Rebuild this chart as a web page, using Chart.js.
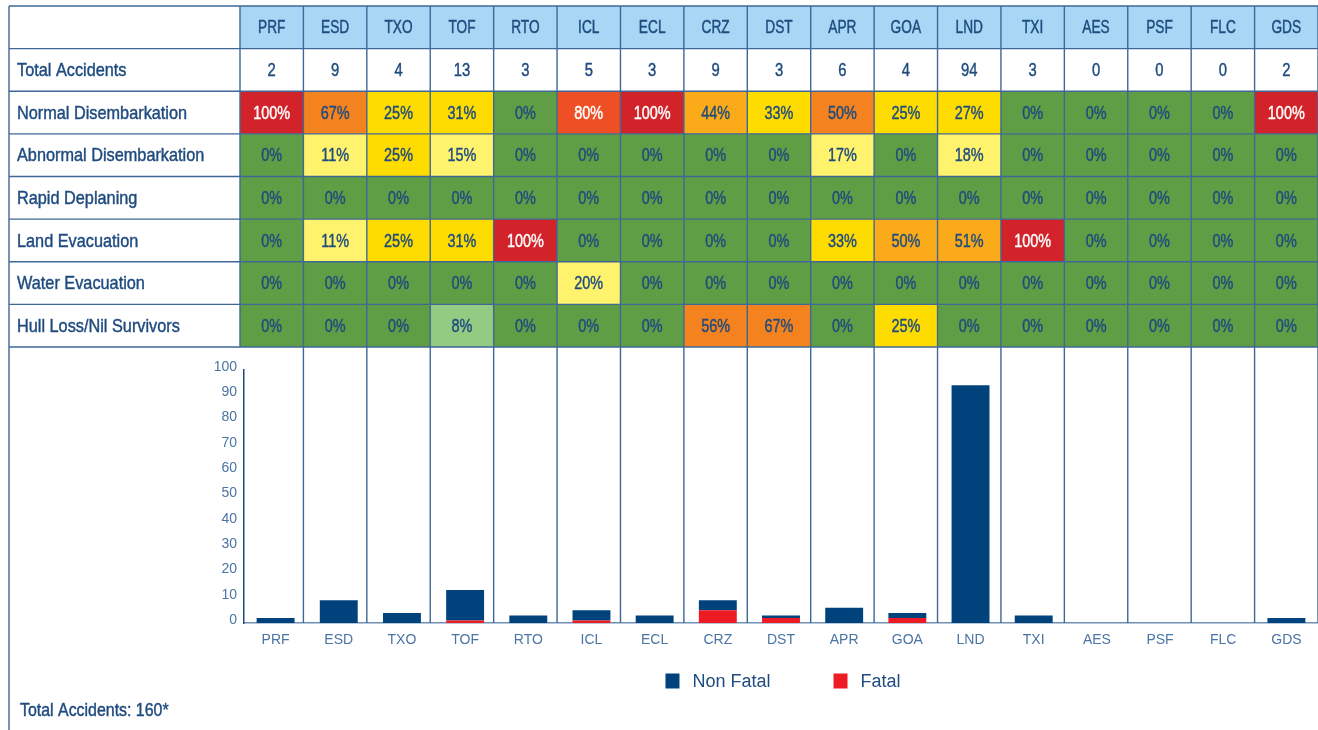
<!DOCTYPE html>
<html>
<head>
<meta charset="utf-8">
<title>Disembarkation and evacuation by flight phase</title>
<script src="https://cdn.jsdelivr.net/npm/chart.js@4"></script>
<style>
  html, body { margin: 0; padding: 0; background: #ffffff; }
  #wrap { width: 1318px; height: 730px; position: relative; }
</style>
</head>
<body>
<div id="wrap"><canvas id="c" width="1318" height="730"></canvas></div>
<script>
// Flight phases (columns)
const phases = ['PRF','ESD','TXO','TOF','RTO','ICL','ECL','CRZ','DST','APR','GOA','LND','TXI','AES','PSF','FLC','GDS'];

// Accident counts per phase
const totalAccidents = [2, 9, 4, 13, 3, 5, 3, 9, 3, 6, 4, 94, 3, 0, 0, 0, 2];
const nonFatal       = [2, 9, 4, 12, 3, 4, 3, 4, 1, 6, 2, 94, 3, 0, 0, 0, 2];
const fatal          = [0, 0, 0,  1, 0, 1, 0, 5, 2, 0, 2,  0, 0, 0, 0, 0, 0];

// Outcome rows (percent of accidents in each phase)
const rowLabels = ['Normal Disembarkation', 'Abnormal Disembarkation', 'Rapid Deplaning',
                   'Land Evacuation', 'Water Evacuation', 'Hull Loss/Nil Survivors'];
const normalDisembarkation   = [100, 67, 25, 31,   0, 80, 100, 44, 33, 50, 25, 27,   0, 0, 0, 0, 100];
const abnormalDisembarkation = [  0, 11, 25, 15,   0,  0,   0,  0,  0, 17,  0, 18,   0, 0, 0, 0,   0];
const rapidDeplaning         = [  0,  0,  0,  0,   0,  0,   0,  0,  0,  0,  0,  0,   0, 0, 0, 0,   0];
const landEvacuation         = [  0, 11, 25, 31, 100,  0,   0,  0,  0, 33, 50, 51, 100, 0, 0, 0,   0];
const waterEvacuation        = [  0,  0,  0,  0,   0, 20,   0,  0,  0,  0,  0,  0,   0, 0, 0, 0,   0];
const hullLossNilSurvivors   = [  0,  0,  0,  8,   0,  0,   0, 56, 67,  0, 25,  0,   0, 0, 0, 0,   0];

// Risk level of each cell (0 = none … 7 = highest)
const normalLevel   = [7, 5, 3, 3, 0, 6, 7, 4, 3, 5, 3, 3, 0, 0, 0, 0, 7];
const abnormalLevel = [0, 2, 3, 2, 0, 0, 0, 0, 0, 2, 0, 2, 0, 0, 0, 0, 0];
const rapidLevel    = [0, 0, 0, 0, 0, 0, 0, 0, 0, 0, 0, 0, 0, 0, 0, 0, 0];
const landLevel     = [0, 2, 3, 3, 7, 0, 0, 0, 0, 3, 4, 4, 7, 0, 0, 0, 0];
const waterLevel    = [0, 0, 0, 0, 0, 2, 0, 0, 0, 0, 0, 0, 0, 0, 0, 0, 0];
const hullLevel     = [0, 0, 0, 1, 0, 0, 0, 5, 5, 0, 3, 0, 0, 0, 0, 0, 0];

const outcomeRows = [
  { values: normalDisembarkation,   levels: normalLevel },
  { values: abnormalDisembarkation, levels: abnormalLevel },
  { values: rapidDeplaning,         levels: rapidLevel },
  { values: landEvacuation,         levels: landLevel },
  { values: waterEvacuation,        levels: waterLevel },
  { values: hullLossNilSurvivors,   levels: hullLevel }
];

// Palette
const levelFill = ['#5f9e44', '#93cb82', '#fff36d', '#ffdc00', '#fbab19', '#f4821f', '#ee4f24', '#d2232a'];
const levelText = ['#1f4b7f', '#1f4b7f', '#1f4b7f', '#1f4b7f', '#1f4b7f', '#1f4b7f', '#ffffff', '#ffffff'];
const INK = '#1f4b7f';
const RULE = '#3f6896';
const HEADER_FILL = '#a7d7f5';
const SANS = '"Liberation Sans", Arial, sans-serif';

// Table frame
const TABLE_TOP = 6;
const TABLE_LEFT = 9;
const ROW_H = 42.625;

// Condensed lettering: regular face squeezed horizontally, lightly stroked for weight
function narrowText(ctx, text, x, y, align, squeeze, size) {
  ctx.save();
  ctx.font = size + 'px ' + SANS;
  ctx.textAlign = align;
  ctx.textBaseline = 'middle';
  ctx.translate(x, y);
  ctx.scale(squeeze, 1);
  ctx.fillText(text, 0, 0);
  ctx.strokeStyle = ctx.fillStyle;
  ctx.lineWidth = 0.45;
  ctx.strokeText(text, 0, 0);
  ctx.restore();
}

const tablePlugin = {
  id: 'outcomeTable',
  afterDraw(chart) {
    const ctx = chart.ctx;
    const xs = chart.scales.x;
    const n = phases.length;
    const colLeft = xs.left - 4;
    const colW = (xs.right - colLeft) / n;
    const right = xs.right;
    const nRows = 2 + outcomeRows.length;
    const bottom = TABLE_TOP + nRows * ROW_H;
    const edge = i => colLeft + i * colW;
    const rowTop = r => TABLE_TOP + r * ROW_H;
    const rowMid = r => rowTop(r) + ROW_H / 2 + 1;

    ctx.save();
    // header fill
    ctx.fillStyle = HEADER_FILL;
    ctx.fillRect(colLeft, rowTop(0), right - colLeft, ROW_H);
    // heat cells
    outcomeRows.forEach((row, r) => {
      row.values.forEach((v, i) => {
        ctx.fillStyle = levelFill[row.levels[i]];
        ctx.fillRect(edge(i), rowTop(r + 2), colW, ROW_H);
      });
    });

    // rules
    ctx.strokeStyle = RULE;
    ctx.lineWidth = 1.4;
    ctx.beginPath();
    for (let r = 0; r <= nRows; r++) {
      ctx.moveTo(TABLE_LEFT, rowTop(r));
      ctx.lineTo(right, rowTop(r));
    }
    ctx.moveTo(TABLE_LEFT, TABLE_TOP);
    ctx.lineTo(TABLE_LEFT, chart.height);
    ctx.moveTo(colLeft, TABLE_TOP);
    ctx.lineTo(colLeft, bottom);
    for (let i = 1; i <= n; i++) {
      ctx.moveTo(edge(i), TABLE_TOP);
      ctx.lineTo(edge(i), xs.top);
    }
    ctx.stroke();

    // text
    ctx.fillStyle = INK;
    phases.forEach((p, i) => {
      const cx = edge(i) + colW / 2;
      narrowText(ctx, p, cx, rowMid(0), 'center', 0.74, 18.5);
      narrowText(ctx, String(totalAccidents[i]), cx, rowMid(1), 'center', 0.8, 18.5);
    });
    outcomeRows.forEach((row, r) => {
      row.values.forEach((v, i) => {
        ctx.fillStyle = levelText[row.levels[i]];
        narrowText(ctx, v + '%', edge(i) + colW / 2, rowMid(r + 2), 'center', 0.78, 18.5);
      });
    });

    ctx.fillStyle = INK;
    ['Total Accidents'].concat(rowLabels).forEach((lab, r) => {
      narrowText(ctx, lab, 17, rowMid(r + 1), 'left', 0.88, 18.5);
    });

    // footnote total
    const grand = totalAccidents.reduce((a, b) => a + b, 0);
    narrowText(ctx, 'Total Accidents: ' + grand + '*', 20, 711, 'left', 0.86, 18.5);

    // legend (stack order reversed so the top segment is listed first)
    const items = chart.data.datasets.slice().reverse();
    ctx.font = '18px ' + SANS;
    ctx.textAlign = 'left';
    ctx.textBaseline = 'middle';
    const boxW = 14, boxH = 15, textGap = 13, itemGap = 63;
    const widths = items.map(d => boxW + textGap + ctx.measureText(d.label).width);
    const total = widths.reduce((a, b) => a + b, 0) + itemGap * (items.length - 1);
    let x = (chart.chartArea.left + chart.chartArea.right) / 2 - total / 2 + 2;
    const ly = 681;
    items.forEach((d, k) => {
      ctx.fillStyle = d.backgroundColor;
      ctx.fillRect(x, ly - boxH / 2, boxW, boxH);
      ctx.fillStyle = INK;
      ctx.fillText(d.label, x + boxW + textGap, ly + 1);
      x += widths[k] + itemGap;
    });
    ctx.restore();
  }
};

const tickFont = { family: SANS, size: 14 };
const tickColor = '#4a74a4';

new Chart(document.getElementById('c'), {
  type: 'bar',
  data: {
    labels: phases,
    datasets: [
      { label: 'Fatal', data: fatal, backgroundColor: '#ed1c24',
        barPercentage: 0.6, categoryPercentage: 1 },
      { label: 'Non Fatal', data: nonFatal, backgroundColor: '#00427c',
        barPercentage: 0.6, categoryPercentage: 1 }
    ]
  },
  options: {
    responsive: false,
    animation: false,
    devicePixelRatio: 1,
    layout: { padding: { top: 370, left: 0, right: 0, bottom: 0 } },
    plugins: { legend: { display: false }, tooltip: { enabled: false } },
    scales: {
      x: {
        stacked: true,
        grid: { display: false, drawTicks: false },
        border: { color: '#6f8fb4', width: 1.6 },
        ticks: { color: tickColor, font: tickFont, padding: 9, maxRotation: 0, autoSkip: false },
        afterFit(s) { s.height = 107; }
      },
      y: {
        stacked: true,
        min: 0,
        max: 100,
        grid: { display: false, drawTicks: false },
        border: { color: '#1f4b7f', width: 1.5 },
        ticks: { stepSize: 10, color: tickColor, font: tickFont, padding: 7, labelOffset: -3 },
        afterFit(s) { s.width = 244; }
      }
    }
  },
  plugins: [tablePlugin]
});
</script>
</body>
</html>
